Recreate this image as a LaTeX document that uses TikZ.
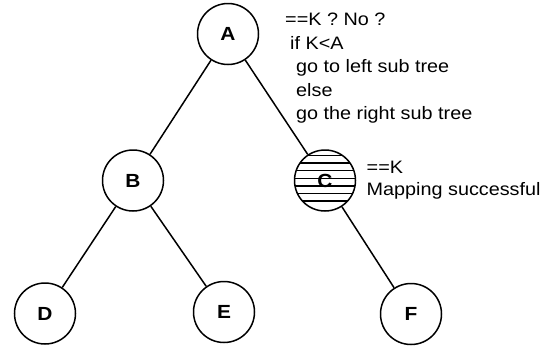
\documentclass[tikz,border=0pt]{standalone}
\usepackage{fontspec}
\setmainfont{Liberation Sans}[FakeStretch=1.1]
\begin{document}
\begin{tikzpicture}[x=1pt,y=-1pt,
  treenode/.style={circle,draw=black,line width=1.5pt,minimum size=61pt,inner sep=0pt,
    font=\fontsize{19}{22}\selectfont\bfseries},
  edge/.style={line width=1.5pt},
  note/.style={anchor=base west,inner sep=0pt,font=\fontsize{18}{21}\selectfont}]
\useasboundingbox (0,0) rectangle (546,346);

% tree nodes
\node[treenode] (A) at (228,34) {A};
\node[treenode] (B) at (133,180.5) {B};
\node[treenode] (C) at (325,180.5) {};
\node[treenode] (D) at (45,313.5) {D};
\node[treenode] (E) at (224,312) {E};
\node[treenode] (F) at (411,314) {F};

% horizontal hatching of the matched node
\begin{scope}
  \clip (C) circle (30.5pt);
  \foreach \k in {-3,...,3}
    \draw[line width=1.3pt] (290,178.3+7.6*\k) -- (360,178.3+7.6*\k);
\end{scope}
\node[font=\fontsize{19}{22}\selectfont\bfseries,inner sep=0pt] (Clabel) at (C) {C};

% edges
\draw[edge] (A) -- (B);
\draw[edge] (A) -- (C);
\draw[edge] (B) -- (D);
\draw[edge] (B) -- (E);
\draw[edge] (C) -- (F);

% search rule beside the root
\node[note] (n1) at (285,25.3) {==K ? No ?};
\node[note] (n2) at (290,49.3) {if K<A};
\node[note] (n3) at (296,72.5) {go to left sub tree};
\node[note] (n4) at (296,96) {else};
\node[note] (n5) at (296,119.5) {go the right sub tree};

% result beside the matched node
\node[note] (m1) at (366.5,173.3) {==K};
\node[note] (m2) at (366.5,195) {Mapping successful};
\end{tikzpicture}
\end{document}
